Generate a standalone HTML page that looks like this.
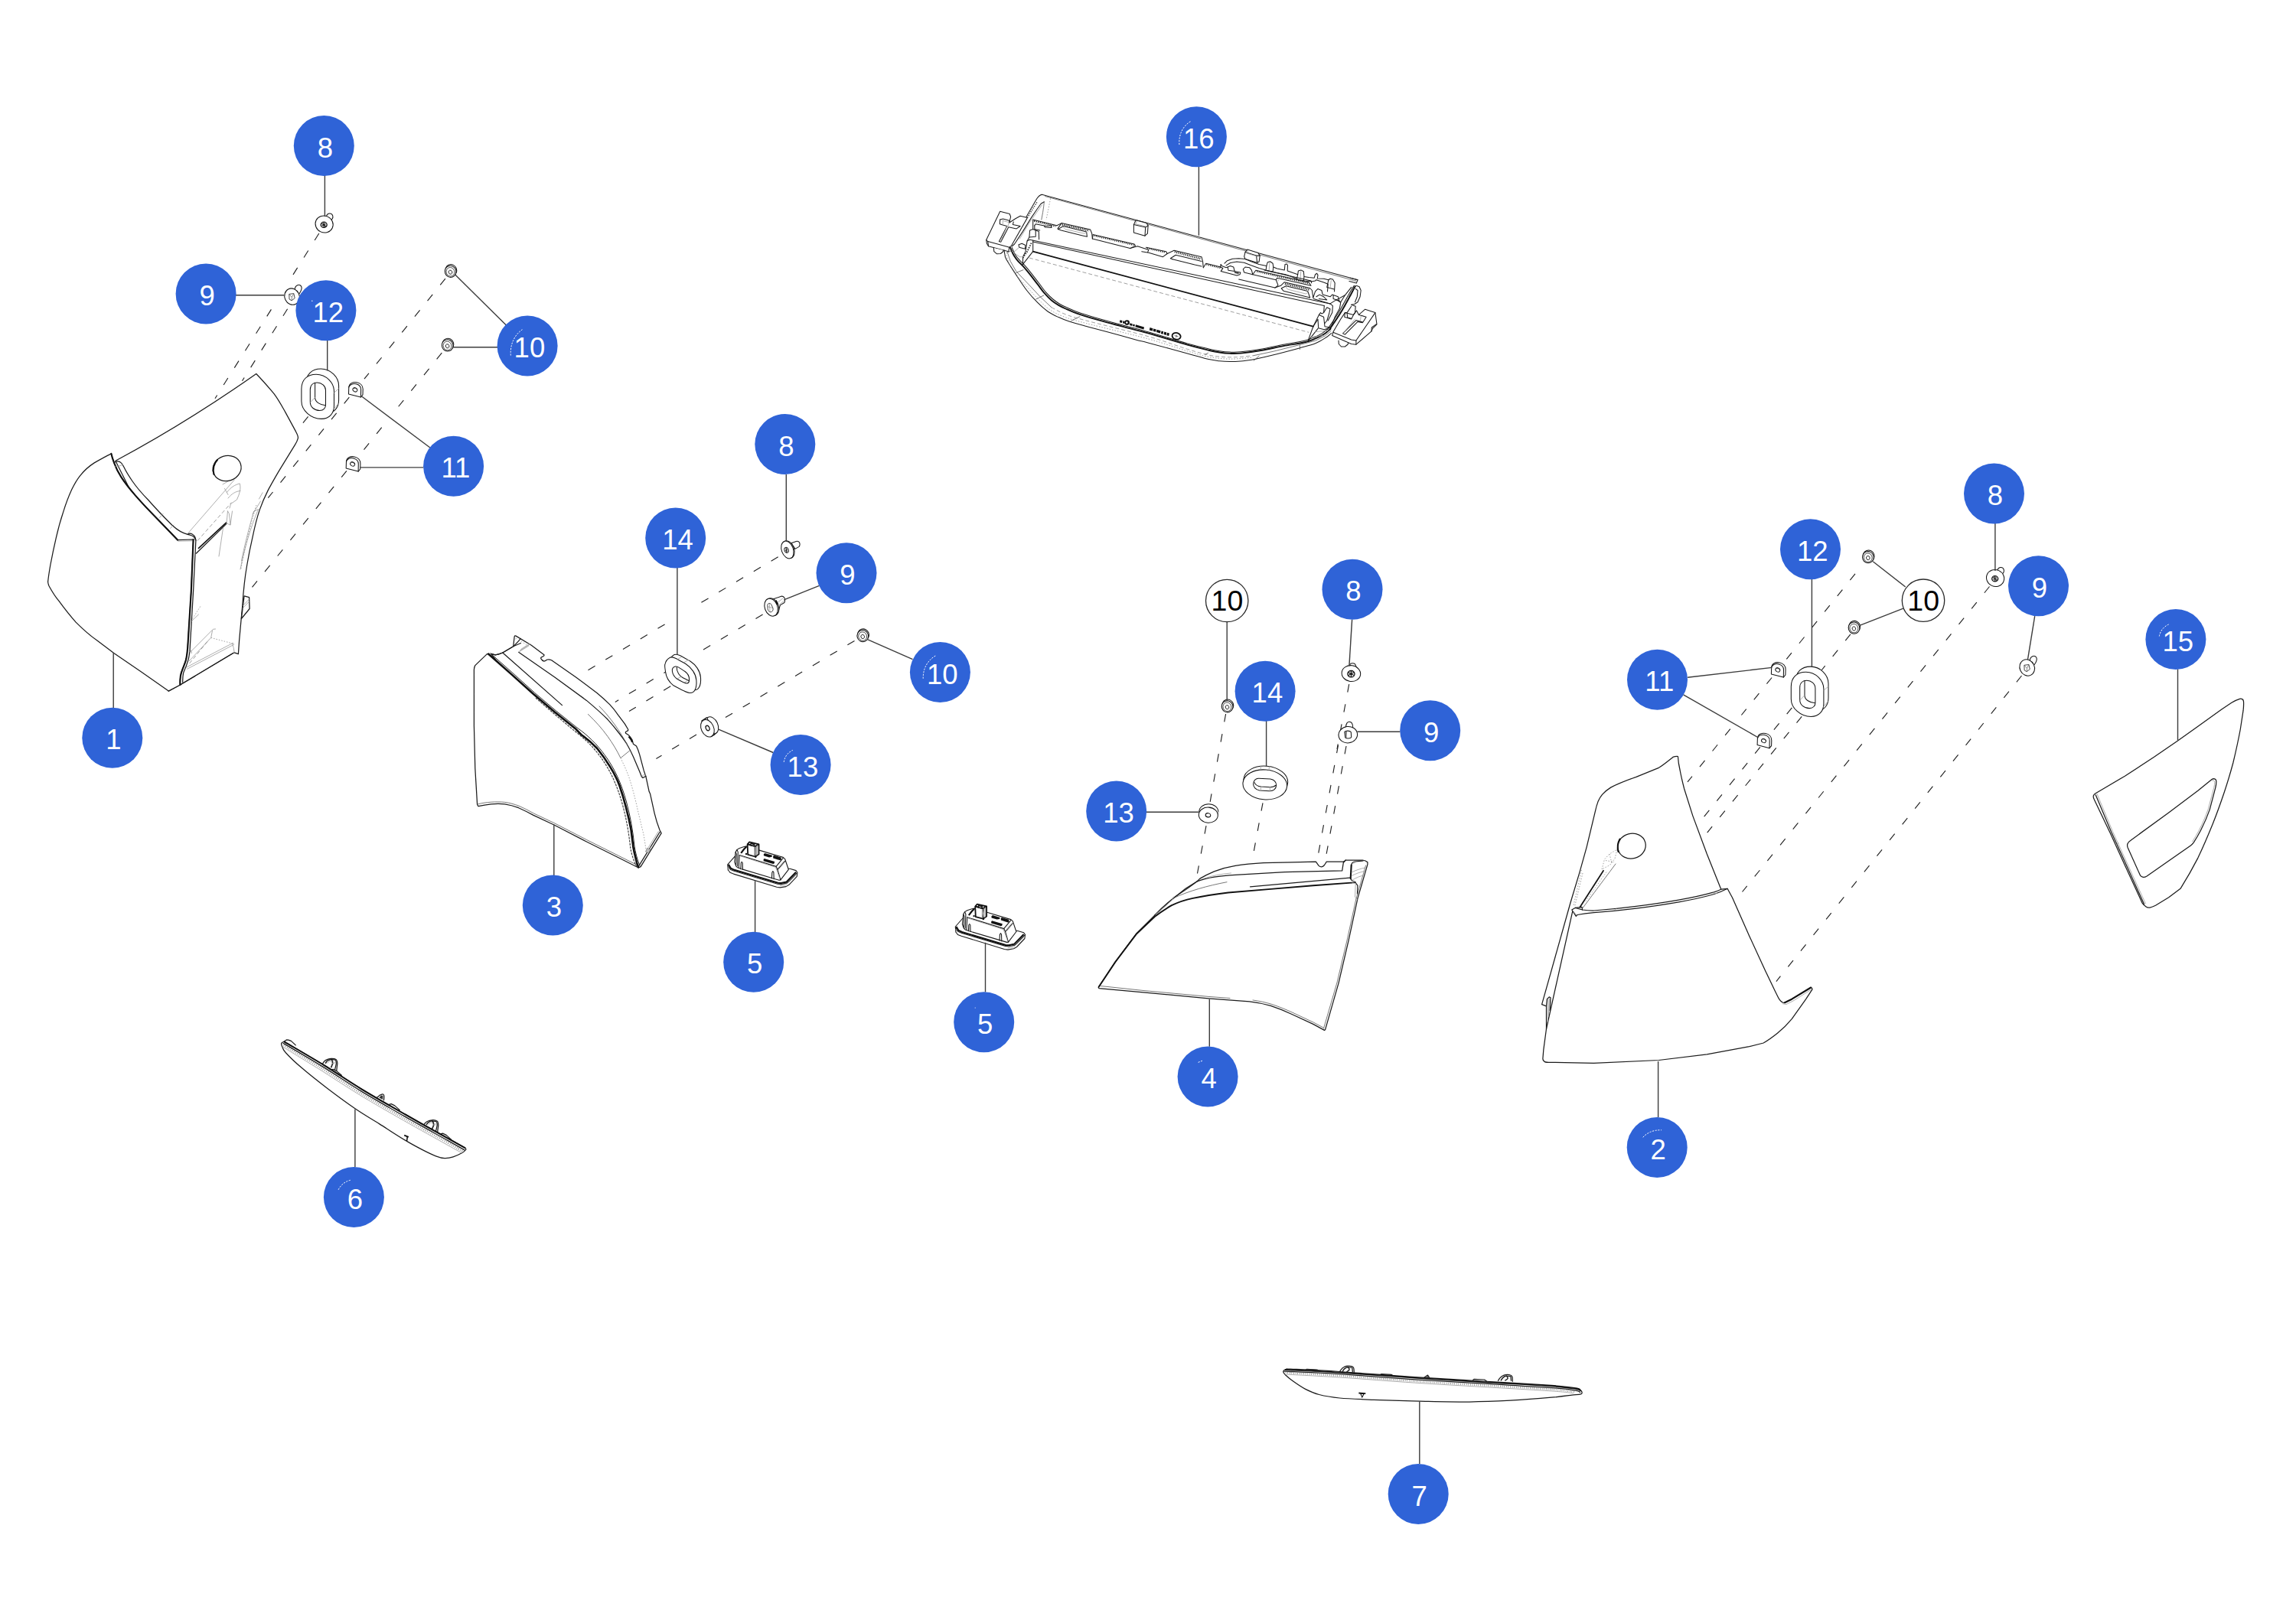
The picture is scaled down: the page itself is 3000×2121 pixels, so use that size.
<!DOCTYPE html>
<html><head><meta charset="utf-8"><title>Parts diagram</title>
<style>
html,body{margin:0;padding:0;background:#fff;}
body{width:3000px;height:2121px;overflow:hidden;}
svg{display:block;font-family:"Liberation Sans",sans-serif;}
.o{fill:none;stroke:#1c1c1c;stroke-width:1.25;stroke-linecap:round;stroke-linejoin:round}
.of{fill:#fff;stroke:#1c1c1c;stroke-width:1.25;stroke-linecap:round;stroke-linejoin:round}
.b{fill:none;stroke:#111;stroke-width:2.1;stroke-linecap:round;stroke-linejoin:round}
.t{fill:none;stroke:#555;stroke-width:.8;stroke-linecap:round;stroke-linejoin:round}
.g{fill:none;stroke:#999;stroke-width:.8;stroke-linecap:round;stroke-linejoin:round}
.gd{fill:none;stroke:#888;stroke-width:.8;stroke-dasharray:5 3}
.gt{fill:none;stroke:#888;stroke-width:.8;stroke-dasharray:1.5 2}
.d{fill:none;stroke:#222;stroke-width:1.15;stroke-dasharray:10.6 15.9}
.l{fill:none;stroke:#3c3c3c;stroke-width:1.4}
#part16 .o,#part16 .of,#part16b .o,#part16b .of{stroke-width:1.05}
#part16 .b{stroke-width:1.75}
#lamp5 .o,#lamp5 .of{stroke-width:1.1}
.bc{fill:#2f63d7}
.wc{fill:#fff;stroke:#2a2a2a;stroke-width:1.3}
.bt{fill:#fff;font-size:36.5px;text-anchor:middle}
.wt{fill:#000;font-size:37.5px;text-anchor:middle}
</style></head><body>
<svg width="3000" height="2121" viewBox="0 0 3000 2121">
<rect width="3000" height="2121" fill="#fff"/>
<!-- 00_defs.svg -->
<defs><style>.hw .of,.hw .o{stroke-width:1.05;stroke:#151515}</style>
<!-- screw type 8, front view (head ellipse + shaft bump up-right) -->
<g id="s8" class="hw">
 <path class="of" d="M3 -10.5C3.5 -14.5 9.5 -15.5 11 -11.5C12 -8.5 10.5 -6 8.5 -5.5"/>
 <ellipse class="of" cx="0" cy="0" rx="11.7" ry="10.9" transform="rotate(25)"/>
 <ellipse cx="-0.4" cy="0.8" rx="4" ry="3.6" fill="#fff" stroke="#111" stroke-width="1.3"/>
 <path d="M-3.2 -.9L2.2 2.7M-2.8 2L2 -.5M-.5 -2.4L-.3 4" stroke="#111" stroke-width="1.2" fill="none"/>
</g>
<!-- screw type 9, front view -->
<g id="s9" class="hw">
 <path class="of" d="M3.5 -9C4 -15 9.5 -17 12 -13.5C13.5 -10.5 11 -6 9.5 -4"/>
 <ellipse class="of" cx="0" cy="0" rx="9.6" ry="10.9" transform="rotate(-25)"/>
 <path d="M-3.8 -3.2L2.2 -4L3.6 2L-.5 5.2L-3.6 3.4Z" fill="#fff" stroke="#333" stroke-width=".9"/>
 <path d="M-3.8 -3.2L-.2 .8L-.5 5.2M-.2 .8L2.2 -4" fill="none" stroke="#555" stroke-width=".7"/>
</g>
<!-- nut type 10 -->
<g id="n10" class="hw">
 <ellipse class="of" cx="1.2" cy="-1.2" rx="7.4" ry="7.7" transform="rotate(-20)"/>
 <ellipse class="of" cx="0" cy="0" rx="7.3" ry="7.6" transform="rotate(-20)"/>
 <ellipse cx="-.3" cy=".4" rx="5.4" ry="5.8" transform="rotate(-20)" fill="none" stroke="#333" stroke-width=".8"/>
 <ellipse cx="-.4" cy=".8" rx="2.3" ry="2.6" transform="rotate(-20)" fill="#fff" stroke="#222" stroke-width=".9"/>
</g>
<!-- clip type 11 (D-shaped tab with hole) -->
<g id="c11" class="hw">
 <path class="of" d="M-9.3 5.5L-9 -3.5C-8.5 -8.5 -3.5 -10.6 1.5 -9.6C6.5 -8.6 9.6 -5 9.4 -.5L9.2 6.5L6.6 9.6L-9.3 5.5Z"/>
 <path class="o" d="M-9 -3.5C-8 -7 -3.5 -8.6 .5 -7.6C4.5 -6.6 6.9 -3.6 6.8 0L6.6 9.6"/>
 <ellipse cx="-.9" cy="-.1" rx="3.1" ry="2.5" transform="rotate(30 -.9 -.1)" fill="#fff" stroke="#222" stroke-width="1"/>
 <path d="M-3 -1.6C-1.5 -2.8 1 -2 1.6 -.4" fill="none" stroke="#222" stroke-width=".8"/>
</g>
<!-- washer 13 -->
<g id="w13" class="hw">
 <ellipse class="of" cx="1.6" cy="-1.6" rx="10.6" ry="11.6" transform="rotate(-20 1.6 -1.6)"/>
 <ellipse class="of" cx="0" cy="0" rx="10.6" ry="11.6" transform="rotate(-20)"/>
 <ellipse cx="-.6" cy=".8" rx="2.4" ry="2.9" transform="rotate(-20 -.6 .8)" fill="#fff" stroke="#222" stroke-width=".9"/>
</g>
</defs>
<!-- 01_defs2.svg -->
<defs>
<!-- grommet 12: vertical oval ring, centred on front oval -->
<g id="g12" class="hw">
 <path class="of" transform="translate(6.1 -7.2)" d="M-2 -29.1C-14 -29.1 -21.3 -22 -21.3 -10L-21.3 6C-21.3 18 -9 29.1 4.7 29.1C15 29.1 21.3 22 21.3 12L21.3 -7C21.3 -18 11 -29.1 -2 -29.1Z"/>
 <path class="of" d="M-2 -29.1C-14 -29.1 -21.3 -22 -21.3 -10L-21.3 6C-21.3 18 -9 29.1 4.7 29.1C15 29.1 21.3 22 21.3 12L21.3 -7C21.3 -18 11 -29.1 -2 -29.1Z"/>
 <path class="g" d="M21.3 -5L27.4 -10.5M21 16L27.2 9"/>
 <path class="of" d="M-.8 -18.2C-6 -18.2 -9.9 -15 -9.9 -9L-9.9 7C-9.9 14 -4 18.2 2.5 18.2C7.5 18.2 10.3 15 10.3 11L10.3 -8C10.3 -14 5 -18.2 -.8 -18.2Z"/>
 <path class="o" d="M-3.6 -17.6L-3.6 1.5C-3.4 7 3 11 10 11.4"/>
 <path class="g" d="M-9.7 7.5L-3.6 1.2"/>
</g>
<!-- grommet 14 tilted (group 3) -->
<g id="g14a" class="hw">
 <path class="of" transform="translate(5.6 -3.7)" d="M-13.8 -23.1C-10 -24.5 -6 -22 6.9 -14.6C14 -10 20 -2 20.6 6.9C21 12 20.5 16 18.7 19.4C17 22.5 14 23.5 11.3 23.1C8 22.8 5.4 21.7 -9.4 13.5C-15 9 -19 2 -19.7 -4.2C-20.3 -8 -21 -12 -20.5 -13.8C-19.5 -18.5 -17 -21.5 -13.8 -23.1Z"/>
 <path class="of" d="M-13.8 -23.1C-10 -24.5 -6 -22 6.9 -14.6C14 -10 20 -2 20.6 6.9C21 12 20.5 16 18.7 19.4C17 22.5 14 23.5 11.3 23.1C8 22.8 5.4 21.7 -9.4 13.5C-15 9 -19 2 -19.7 -4.2C-20.3 -8 -21 -12 -20.5 -13.8C-19.5 -18.5 -17 -21.5 -13.8 -23.1Z"/>
 <path class="g" d="M-3.5 -21L1.5 -24M5 -17L10.5 -20"/>
 <path class="of" d="M-7.2 -11.2C-5 -12 -3 -10.5 5.4 -5C9 -2.5 11.5 2 11.3 6.1C11.2 9 10 10.6 8.4 10.6C6 11 3 9.5 -5 4.7C-8.5 2 -10.5 -2 -10.9 -5C-11.3 -8 -9.5 -10.5 -7.2 -11.2Z"/>
 <path class="o" d="M-5 -10.2C-5.5 -4 -1 1.5 3 3.5L10.8 7.2"/>
 <path class="g" d="M-4 4.5L1 2M5 9.5L9.5 6.8"/>
</g>
<!-- grommet 14 horizontal (group 4) -->
<g id="g14b" class="hw">
 <ellipse class="of" cx="1" cy="-4.8" rx="28.9" ry="19.4" transform="rotate(5 1 -4.8)"/>
 <ellipse class="of" cx="0" cy="0" rx="28.9" ry="19.4" transform="rotate(5)"/>
 <path class="g" d="M-5.5 -24L-5.7 -19.5M5.5 -23.6L5.3 -18.8"/>
 <path class="of" d="M-8 -8.2L7 -7.4C12 -6.8 15 -3 14.8 1C14.6 5.5 11 8.6 6 8.4L-7 7.6C-12 7 -15.4 3 -15.2 -1C-15 -5.5 -12 -8.4 -8 -8.2Z"/>
 <path class="o" d="M-14.2 -3.5C-12.5 .5 -9 2.4 -5 2.7L7 3.3C10.5 3.3 13 2 14.2 .8"/>
 <path class="g" d="M-5.5 2.8L-5.5 7.6M6.5 3.3L6.5 8.3"/>
</g>
</defs>
<!-- 02_defs3.svg -->
<defs>
<!-- screw 8 side view (group 3) -->
<g id="s8b" class="hw">
 <path class="of" d="M5.1 -8.7L11.4 -11.1C14.5 -11.8 16.2 -9.5 16.2 -7.2C16.2 -5.5 15.6 -4.4 14.8 -3.9L10 -1.1Z"/>
 <ellipse class="of" cx="1" cy="-.4" rx="7.6" ry="11.8" transform="rotate(-20 1 -.4)"/>
 <ellipse class="of" cx="0" cy="0" rx="7.6" ry="11.8" transform="rotate(-20)"/>
 <ellipse cx="-1.3" cy=".4" rx="2.6" ry="3.6" transform="rotate(-20 -1.3 .4)" fill="#fff" stroke="#222" stroke-width="1"/>
 <path d="M-2.6 -1.8L0 2.6M-2.8 1.2L.2 -.6M-1.3 -3L-1.3 3.8" stroke="#222" stroke-width=".9" fill="none"/>
</g>
<!-- screw 9 side view (group 3) -->
<g id="s9b" class="hw">
 <path class="of" d="M1.4 -10.4L13.9 -14.6C16.5 -14.6 18 -12 18 -9.8C18 -8 17.7 -7 17.3 -6.2L11.8 -2.8L9 6.9Z"/>
 <path class="g" d="M8 -6L15.5 -12M9.5 -2.5L16.8 -8.5"/>
 <ellipse class="of" cx="1.4" cy="-.5" rx="8.3" ry="11.8" transform="rotate(-20 1.4 -.5)"/>
 <ellipse class="of" cx="0" cy="0" rx="8.3" ry="11.8" transform="rotate(-20)"/>
 <path d="M5.5 -8.5L8 -3.5M6.3 -9.3L8.8 -4.5" stroke="#111" stroke-width="1.3" fill="none"/>
 <path d="M-4.8 -3.5C-4 -5.5 -1.5 -5.8 0 -4.2L2.4 1.2C3 3.8 1.5 6 -.5 6.2C-2.5 6.3 -4 4.5 -4.5 2Z" fill="#fff" stroke="#333" stroke-width=".9"/>
 <path d="M-2.2 -4.6L-1.6 5.8M-4.6 -1L2.2 1" stroke="#777" stroke-width=".6" fill="none"/>
</g>
<!-- washer 13 side-ish view (group 3) -->
<g id="w13a" class="hw">
 <ellipse class="of" cx="5.5" cy="-3.7" rx="8.1" ry="11.8" transform="rotate(-25 5.5 -3.7)"/>
 <path class="of" d="M-6.3 -10.3L-.8 -14L9.3 8.2L4.5 10.9Z" stroke="none"/>
 <path class="o" d="M-7.8 -9.6L-1.6 -13.6M5.6 10.2L10.8 6.8"/>
 <ellipse class="of" cx="0" cy="0" rx="8.1" ry="11.8" transform="rotate(-25)"/>
 <ellipse cx=".2" cy="-.3" rx="2.3" ry="3.4" transform="rotate(-25 .2 -.3)" fill="#fff" stroke="#111" stroke-width="1.2"/>
</g>
<!-- washer 13 (group 4) -->
<g id="w13b" class="hw">
 <ellipse class="of" cx=".5" cy="-4.4" rx="12.5" ry="10.1"/>
 <path d="M-12.3 -4.4L-12.5 0L12.5 0L13 -4.4Z" fill="#fff" stroke="none"/>
 <ellipse class="of" cx="0" cy="0" rx="12.5" ry="10.1" transform="rotate(4)"/>
 <ellipse cx="-.3" cy=".1" rx="3.3" ry="2.6" transform="rotate(8)" fill="#fff" stroke="#111" stroke-width="1.1"/>
</g>
<!-- screw 8 group 4: bump at top -->
<g id="s8c" class="hw">
 <path class="of" d="M-2 -9.5C-2 -14.5 5.5 -14.8 6.2 -9.5L9.5 -5"/>
 <ellipse class="of" cx="0" cy="0" rx="12.3" ry="10.4" transform="rotate(8)"/>
 <ellipse cx="0" cy=".6" rx="4.6" ry="4.2" fill="#fff" stroke="#111" stroke-width="1.3"/>
 <path d="M-3.6 -1.2L3.4 2.4M-3.4 2.4L3.4 -1.4M0 -3.6L0 4.6" stroke="#111" stroke-width="1.2" fill="none"/>
</g>
<!-- screw 9 group 4: bump at top -->
<g id="s9c" class="hw">
 <path class="of" d="M-2.8 -10C-2.6 -19.5 6.2 -19 6.4 -9.5"/>
 <ellipse class="of" cx="0" cy="0" rx="12.3" ry="10.7" transform="rotate(-8)"/>
 <path d="M-4.4 -3.8C-3 -5.6 2.5 -5.6 4 -3.4L4.4 3.4C3.4 5.2 -2.4 5.4 -3.6 3.6Z" fill="#fff" stroke="#222" stroke-width="1.1"/>
 <path d="M-3.2 -4.2L-3.4 4M-2 -4.8L-2.4 4.6" stroke="#444" stroke-width=".9" fill="none"/>
</g>
</defs>
<!-- 10_part1.svg -->
<g id="part1">
 <!-- body behind -->
 <path class="of" d="M150.9 602.2Q243 553 334.8 488.5C343 497 350 505 357.9 514.4C364 522.5 368.5 531 372.7 538.4L385.7 562.4C388 567 390 570 389.4 572.6C388.5 576 387.5 578 385.7 580.9L365.3 614.2C360 623 355 632 350.5 640.1C346 649 342.5 657 339.4 665.9C335.5 677 332.5 690 330.2 701.1C327 715 324.5 728 322.8 738C320 754 318 772 316.9 790L312.6 837.1L311.4 854.7L306.2 852.8L304.3 853.8L235.4 895L220.2 903.1L200 700Z"/>
 <!-- side tab -->
 <path class="of" d="M319.1 778.9L325.6 780.7L326.1 795.5L315.4 808.5Z"/>
 <path class="g" d="M317.5 791.5L325 783.5M317 795L325.6 786"/>
 <!-- front face -->
 <path class="of" d="M145.4 592.9C137 597 130 601 123.2 604.9C116 609.5 110 615 104.7 621.6C100 627.5 96.5 634 93.6 640.1C89 650 85.5 660 82.5 669.6C79 680 76 691 73.3 702.9C70.5 715 68 727 65.9 738C64.5 746 63.4 753 62.6 760.2C62.8 762.5 63.3 764 64 765.7C68 773 72 779.5 77 785.4C84 795 91 804 99.1 813.1C108 822 117 830 126.9 837.1L149.1 853.8L184.2 877.8L217.4 900.9L220.2 903.1L235.4 895C235.2 891 235.4 887 235.9 883.3C236.5 880 237.5 877 238.7 874.1C240.5 869.5 242.3 865.5 243.3 861.1C244.2 856.5 244.8 851.5 245.2 846.4L249.8 772.4L252.6 705L232.2 705.7L206.4 678.9C196 668.5 186 658 176.8 647.4C170 639.5 163.5 631.5 158.3 623.4C154.5 617.5 151.5 611.5 149.1 604.9C147.5 600.5 146.3 597 145.4 592.9Z"/>
 <path class="b" d="M145.4 592.9C146.3 597 147.5 600.5 149.1 604.9C151.5 611.5 154.5 617.5 158.3 623.4C163.5 631.5 170 639.5 176.8 647.4C186 658 196 668.5 206.4 678.9L232.2 705.7"/>
 <!-- ridge inner line -->
 <path class="o" d="M150 604C152.5 602.5 156 602.5 158.3 604.9C160 606.5 161 608.5 162 610.5C165 617 169 623 173.1 629C179 637.5 186 645.5 193.4 653C203 664 214 675.5 224.8 686.3C228.5 689.8 232 692.5 235.9 694.6C239 696.2 242 697.3 245.2 698.3C248.5 699.3 251 699.8 252.6 701C254.5 702.4 255.2 704 255.4 705.7"/>
 <path class="g" d="M151 609.5C154.5 609.5 158 608.5 160.5 607.5M213 671.5L208.5 676.5M222.5 690.5L227 686M232.8 707.2L252.3 706.8"/>
 <!-- front right edge double -->
 <path class="b" d="M252.6 705L249.8 772.4L245.2 846.4C244.8 851.5 244.2 856.5 243.3 861.1C242.3 865.5 240.5 869.5 238.7 874.1C237.5 877 236.5 880 235.9 883.3C235.4 887 235.2 891 235.4 895"/>
 <path class="o" d="M255.9 705.9L252.6 772.4L247.9 851.9C247.3 858.5 245.5 865 243.3 870.4C241.8 874 240.3 877 239.6 879.6C238.8 883.5 238.6 887.5 238.7 891.6"/>
 <path class="o" d="M245.2 698.3C247 696.8 249.3 697 251.5 698.3C254 699.8 255.7 702.5 255.9 705.9"/>
 <!-- inner ledge -->
 <path d="M259 716.8L296 682.6" fill="none" stroke="#111" stroke-width="1.6"/>
 <path class="o" d="M256.3 723.2L296 684.4"/>
 <path class="g" d="M245.2 697.4L306.2 627.1"/>
 <path class="gd" d="M258.1 706.6L302.5 656.7"/>
 <path class="g" d="M296 684.4L297.5 668M297.5 668L299.5 671.5L301 686L297.5 684.5M301 686L303.5 668M286 727L291.5 690"/>
 <path class="g" d="M293.5 638.5L298 646.5M291 633L310 622M296.5 643.5C301 637 307 633.5 313 632M298 651C303 645 308 642 314 641.5M313.5 632.5C314.5 637 314 641 312 647L309.5 653L301.5 658.5L300 664"/>
 <!-- hole -->
 <ellipse class="of" cx="296.6" cy="612" rx="18.7" ry="16.4" transform="rotate(-18 296.6 612)"/>
 <path class="b" d="M279.5 620C277.5 613 279.5 605.5 284 601"/>
 <!-- right inner thin curves -->
 <path class="g" d="M343.1 643.8L338.5 652M337.5 665.5C327 690 318.5 720 314 744M331.5 668.5C324 695 319 715 315.5 733M331.5 668.5L337.5 665.5M340.5 655L330 672"/>
 <path class="gt" d="M335 660C326 690 319 720 314.5 745"/>
 <!-- bottom inner ledge -->
 <path class="g" d="M243.3 872.2L303.4 840.8M244.5 874.3L304.4 843M303.4 840.8L305.2 846.5L306.2 852.8M303.4 840.8C304.5 839.5 305.5 840.5 305.3 842.5"/>
 <path class="gt" d="M275.7 833.4L303.4 840.8"/>
 <path class="g" d="M248.9 851.9L278.4 822.3L281.5 822M247 864L275.7 833.4L277.5 824M250.5 853.5L249.5 850"/>
 <path class="gd" d="M247.5 867L273 836"/>
 <path class="gt" d="M251.5 808.5L262.5 791.5"/>
 <path class="g" d="M250.5 811.5L259.5 803"/>
 <!-- bottom edge -->
 <path class="o" d="M235.4 895L304.3 853.8"/>
</g>
<!-- 11_part3.svg -->
<g id="part3">
 <!-- back body -->
 <path class="of" d="M641.6 854.4L647.1 855.8C650.5 855.5 653.5 854.5 656.8 853L670.7 844.7L672.1 832.2C672.5 830.8 673.3 830.6 674.2 831.1L694.3 843.3L710.9 855.8C711.3 856.8 710.5 857.3 709.5 857.8C707.5 858.5 706.3 859.5 706.8 860.6C707.8 862.5 709.3 863.8 710.9 864.1C712.5 864 713.8 862.8 715.1 862C717 861.5 719 862 720.6 862.7L752.5 884.9L780.2 905.7C786 910.5 791.5 915.5 796.9 920.9C801 925.3 804.7 930 808 934.8L816.3 945.9L820.4 952.8C820.9 953.8 820.9 954.4 820.4 954.9L817.7 956.3C817.2 957 817.2 957.6 817.7 958.3L821.8 961.1C823.5 962.8 824.9 964.7 826 966.7L827.4 972.2L831.5 975C833.3 978.5 834.5 982 835.7 986.1L841.2 1006.9L844 1015.2L848.2 1034.6L849.6 1037.6L855.1 1062.6C857 1070.5 859.3 1078 862 1084.8L864.1 1088.9L837.1 1132.6L834.3 1134L700 930Z"/>
 <!-- front face -->
 <path class="of" d="M636.7 854.4L620.8 869.6C619.8 871.5 619.5 873 619.4 875L619.4 948.6L620.8 1004.1L623.6 1051.5L625 1053.6C630.5 1052.3 636 1051.4 641.6 1050.8C647.5 1050.3 653.5 1050.2 659.6 1050.8C665.7 1051.7 671.7 1053.4 677.6 1055.7C684 1058.5 690.5 1061.8 697 1065.4L723.4 1077.8L766.4 1100L808 1120.8L834.3 1134C832.5 1129.5 831.2 1124.5 830.1 1119.4C829 1115.3 828.1 1111.2 827.4 1107L824.6 1084.8C822.7 1074.5 820.4 1064.3 817.7 1054.3C815.3 1044.8 812.5 1035.5 809.4 1026.5C806 1017.5 801.8 1009.3 796.9 1001.6C791.8 993.3 786.2 985.5 780.2 978C773.8 971.2 766.8 965.3 759.4 960L752.5 952.8L724.8 930.6L697 907L669.3 882.1L639.5 855.1Z"/>
 <path class="t" d="M624 1051C630 1049.3 636 1048.6 641.8 1048.2C647.7 1047.8 653.7 1047.8 659.8 1048.4C666 1049.2 672 1051 678 1053.2C684.5 1056 691 1059.3 697.5 1063L723.8 1075.4L766.8 1097.6L808.4 1118.4L831.5 1130"/>
 <!-- bold edge strokes -->
 <path d="M637.5 854L669.3 882.1L697 907L724.8 930.6L752.5 952.8L759.4 960C766.8 965.3 773.8 971.2 780.2 978C786.2 985.5 791.8 993.3 796.9 1001.6C801.8 1009.3 806 1017.5 809.4 1026.5C812.5 1035.5 815.3 1044.8 817.7 1054.3C820.4 1064.3 822.7 1074.5 824.6 1084.8L827.4 1107C828.1 1111.2 829 1115.3 830.1 1119.4C831.2 1124.5 832.5 1129.5 834.3 1134" fill="none" stroke="#111" stroke-width="2.6" stroke-linejoin="round"/>
 <path d="M640.5 853.5L671 880.5L698.5 905.3L726.3 928.8L754 951C768 961 780 972.5 790 986.5C803 1004 812 1024 818.5 1048C823.5 1066 827 1086 829 1106C830 1113 832.5 1123 836 1131.5" fill="none" stroke="#222" stroke-width="1"/>
 <path d="M700 912L726 934.5L751 955.5C765 966 776 977 786 991C798 1008 806.5 1027 813 1050C818 1068 821.5 1087 823.5 1106C824.5 1114 827.5 1124 831.5 1132" fill="none" stroke="#444" stroke-width="1.2" stroke-dasharray="3 1.2"/>
 <!-- front tab -->
 <path class="o" d="M641.6 854.4L647.1 855.8C650.5 855.5 653.5 854.5 656.8 853L670.7 844.7L680.4 840.5"/>
 <path class="o" d="M670.7 844.7C674 842 677 838.5 680.2 834.7"/>
 <path class="gt" d="M673.5 835L676 833.5M681 838L688 842.5"/>
 <!-- inner long lines -->
 <path class="o" d="M656.8 853L734.5 921.6"/>
 <path class="o" d="M677.6 852.3L724.8 884.9L766.4 915.4C776 923.5 785.5 931.5 794.1 940.3C799 945.7 803.7 951.3 808 957C812 962 815.7 967 819 972.2C822.2 977.7 825 983.2 827.4 988.8L835.7 1008.3L838.5 1015.2"/>
 <path d="M677.6 852.3L691 844M678.6 851L691.6 842.8M679.6 849.8L692 841.8M680.4 848.6L692.3 840.8" stroke="#999" stroke-width=".7" fill="none"/>
 <path class="o" d="M838.5 1015.2L840 1016.5L844 1014.2"/>
 <path class="g" d="M838.5 1015.2L840.8 1012.5L843.5 1013"/>
 <!-- thin curves -->
 <path class="t" d="M783 923C797 937 810 955 820.4 975"/>
 <path class="t" d="M768.4 933.4C778 942.5 786.5 952 794.1 962.5C800.5 971.5 806 980.5 810.7 990.2"/>
 <path class="gt" d="M810.7 990.2C815 999 818.7 1007 821.8 1015.5C826 1028.5 829.8 1042.5 832.9 1057.1L841.2 1091.7L844 1109.7"/>
 <path class="t" d="M811.4 990.2L822.5 981.2"/>
 <!-- small dark mark near notch -->
 <path d="M821.5 962.5C823.5 964.5 825.2 967 826.2 970" stroke="#111" stroke-width="2.2" fill="none"/>
 <!-- bottom right double lines -->
 <path class="o" d="M862 1087.5L835 1131.2"/>
 <path class="g" d="M860.3 1086.5L844 1112.5L845.5 1109.5L849 1110.5L850 1107"/>
 <path d="M845.5 1108.5L849.6 1110L847.5 1115L843.5 1113Z" fill="#bbb" stroke="#777" stroke-width=".6"/>
</g>
<!-- 12_part4.svg -->
<g id="part4">
 <path class="of" d="M1435.2 1290.4L1457 1257.1L1484.7 1220.1L1508.7 1196.1L1530.9 1175.8L1549.4 1161L1564.2 1151.8L1567.9 1148.1C1574 1144.5 1580 1141.5 1586.4 1138.8C1595 1135.5 1604.5 1133 1614.1 1131.4C1626 1129.5 1638.5 1128.4 1651 1127.7L1688 1126.8L1719.4 1126.2L1723.1 1131.4C1724.3 1132.6 1725.5 1132.9 1726.8 1132.9C1728.3 1132.7 1729.5 1131.8 1730.5 1130.5L1733.3 1126.2L1755.5 1126.2L1758.3 1124L1780.4 1124C1783.5 1124.5 1785.5 1125.5 1786.9 1126.8L1786.9 1129.6L1774 1173.9L1762 1229.4L1749 1284.8L1731.5 1345.8L1730.5 1346.4L1715.8 1338.4L1688 1325.5C1679 1321.3 1669.8 1317.5 1660.3 1314.4C1651.5 1311.8 1642.2 1310 1632.6 1308.9L1579 1304.8L1493.9 1296.9L1436 1291.6Z"/>
 <path class="t" d="M1438 1288.5L1494 1294.5L1579 1302.4L1607 1304.5M1637 1307C1646 1308.3 1654 1310 1661 1312.2C1670.5 1315.3 1679.7 1319 1688.8 1323.2L1716.5 1336.2L1729 1343"/>
 <path class="t" d="M1784.5 1131L1771.8 1175L1760 1229L1747 1284L1729.5 1344"/>
 <!-- bold front top edge -->
 <path d="M1435.8 1289.5L1457.5 1257L1485.2 1220.3L1508.7 1198C1516 1192.5 1523 1187.7 1530.9 1183.2C1539.5 1179 1548.5 1176 1558.6 1173.9C1573 1170.8 1588.5 1168.5 1604.8 1166.5L1660.3 1161.9L1715.8 1157.3L1765.7 1153.6" fill="none" stroke="#111" stroke-width="1.9" stroke-linejoin="round" stroke-linecap="round"/>
 <path class="o" d="M1765.7 1153.6L1771.2 1153.6L1774 1157.3L1773.5 1168"/>
 <path class="g" d="M1771.2 1154.5L1770.5 1172L1773.5 1176"/>
 <!-- ledge top line -->
 <path class="o" d="M1564.2 1151.8C1571 1149.3 1578.5 1147.5 1586.4 1146.2C1595 1144.7 1604.5 1143.9 1614.1 1143.4L1678.8 1139.7L1753.7 1137.9L1755.5 1126.2"/>
 <path class="o" d="M1508.7 1196.1C1520 1184 1534 1172 1549.4 1162.5C1554.5 1159 1559.5 1155.5 1564.2 1151.8"/>
 <path class="o" d="M1633.5 1158.8L1763.8 1147.1"/>
 <path class="b" d="M1765.7 1130.5L1764.7 1148.1"/>
 <path class="o" d="M1758.3 1124L1756.5 1126.5M1765.7 1130.5C1766 1128 1768 1126.5 1770 1126L1781 1125M1764.7 1148.1L1766.5 1151L1771 1152.5"/>
 <path class="g" d="M1766 1140C1772 1137 1778 1135 1784 1134M1766 1144.5C1772 1141.5 1778 1139.5 1783 1138.5M1767 1150C1772 1147 1777 1145 1781.5 1144M1768 1128.5L1772 1126.5"/>
 <!-- thin grey -->
 <path class="t" d="M1532.8 1173.9C1554 1164 1578 1157.5 1603 1152.7"/>
 <path class="g" d="M1571.5 1148.5C1583 1144.5 1596 1142 1608.5 1141"/>
 <path class="g" d="M1510 1195L1531 1176.5L1533.5 1172"/>
</g>
<!-- 13_part2.svg -->
<g id="part2">
 <!-- upper body -->
 <path class="of" d="M2185.9 989.4C2188 988.6 2190 988.4 2192.4 988.5C2192.8 995 2193.8 1001 2195.2 1007C2196.7 1015 2198.6 1023 2200.7 1031L2211.8 1066.1L2230.3 1116L2248.8 1162.2L2257.1 1161.3L2263.6 1173.3L2285.7 1223.2L2307 1269.4L2319 1294.6L2322.7 1302C2324.3 1305.5 2326 1308 2328.3 1309.4C2329.5 1310.3 2330.8 1310.5 2332 1310.3L2341.2 1305.7L2366.2 1290.5C2367.3 1290.8 2368 1291.6 2368 1292.8L2359.7 1305.7L2341.2 1331.6C2335.5 1338.5 2329.3 1344.7 2322.7 1350C2316.5 1355 2310.3 1359.5 2304.2 1363L2285.7 1367.6L2230.3 1377.8L2167.4 1385.5L2082.4 1389.4L2023.3 1388.3C2020.5 1388.3 2018.5 1388 2017.7 1387C2016.3 1386 2015.8 1384.8 2015.9 1383.3L2016.8 1372.2L2020.5 1344.5L2020.5 1314.9L2014.6 1312.7L2051.9 1180L2063.9 1140.1L2073.2 1106.8L2084.3 1060.6C2085.3 1056 2086.5 1051.5 2088 1047.6C2089.5 1044 2091.3 1041 2093.5 1038.4C2096.5 1034.8 2100.3 1031.8 2104.6 1029.1C2114.5 1023.8 2126 1019.5 2137.9 1015.3L2167.4 1003.3C2173.5 999.5 2179.5 994.5 2185.9 989.4Z"/>
 <!-- inner left line -->
 <path class="o" d="M2054.7 1191.1L2020.5 1344.5"/>
 <path class="o" d="M2020.5 1314.9L2021.4 1305.7L2024.2 1302.9L2026 1303.8L2025.1 1320.5"/>
 <path class="g" d="M2022.8 1306.5L2022.2 1335M2024.3 1305L2023.5 1328"/>
 <!-- ledge (lower section top edge) -->
 <path class="o" d="M2248.8 1162.2C2246 1163.5 2242.8 1164.8 2239.5 1165.9C2225 1170 2209.5 1173.3 2193.3 1176.1C2175 1179.3 2156.5 1182 2137.9 1184.4C2119.5 1186.8 2101 1188.7 2082.4 1190C2077.5 1190 2072.5 1189.7 2067.6 1189L2058.4 1186.3L2053.8 1189L2059.3 1197.4L2061.2 1195.5C2068 1194.4 2075 1193.5 2082.4 1192.7C2101 1191.3 2119.5 1189.4 2138 1187.1C2156.6 1184.7 2175 1182 2193.5 1178.8C2209.7 1176 2225 1172.7 2239.8 1168.5C2246 1166.5 2251.8 1164 2257.1 1161.3"/>
 <path class="o" d="M2058.4 1186.3L2067 1185.4L2067.6 1189"/>
 <path class="g" d="M2055.5 1190.5L2060.3 1196.5M2110 1189.5L2112 1187.3M2238 1167L2243 1167.5"/>
 <!-- strut -->
 <path d="M2095.4 1137.3L2063.9 1186.3" fill="none" stroke="#111" stroke-width="1.7"/>
 <path class="t" d="M2111 1129L2067.6 1187.2"/>
 <path class="gt" d="M2099 1139.5L2071 1179M2093 1136L2096.5 1123L2103 1116L2113 1110L2110 1122L2103.5 1130.5L2093 1136M2103 1116L2106 1128M2098 1124.5L2109 1126.5M2113 1110L2116 1106.5"/>
 <path class="gt" d="M2066.5 1137L2056 1183M2068 1141L2057.5 1185"/>
 <!-- hole -->
 <ellipse class="of" cx="2132" cy="1105.6" rx="18.4" ry="16.3" transform="rotate(-15 2132 1105.6)"/>
 <path class="b" d="M2114.5 1113C2113 1107 2114 1101 2116.5 1096.5"/>
 <!-- fin bold edge -->
 <path class="b" d="M2332 1310.3L2341.2 1305.7L2366.2 1290.5"/>
 <path class="g" d="M2329.5 1311.8L2334 1312.5L2343 1308L2366.5 1293.3"/>
</g>
<!-- 14_part15.svg -->
<g id="part15">
 <path class="of" d="M2926.4 913.3C2929.5 912.8 2931.3 914.2 2931.5 916.7C2931.8 920.5 2931.5 924.5 2931.1 928.2L2927.3 953C2924.5 968 2921.3 982.5 2917.8 997C2914.3 1010 2910.5 1022.7 2906.3 1035.2C2901.5 1049.5 2896.5 1063.5 2891 1077.2C2885 1092 2878.7 1106.7 2871.9 1121.1C2864.8 1135 2857 1148.5 2849 1161.3L2833.7 1172.7L2816.5 1183.2C2813.8 1184.6 2811.3 1185.6 2808.9 1186.1C2807 1186.3 2805.4 1186 2804.1 1185.1C2802.2 1183.8 2800.6 1182.2 2799.3 1180.4L2776.4 1130.7L2757.3 1088.7L2736.3 1044.7C2735.3 1043 2735 1041.5 2735.3 1040C2735.8 1038.5 2736.8 1037.5 2738.2 1036.7L2776.4 1014.2L2814.6 989.3L2845.2 968.3L2871.9 949.2L2902.5 927.2L2915.9 918.3C2919.5 916 2923 914.3 2926.4 913.3Z"/>
 <path class="o" d="M2738.2 1038.8L2758.9 1087.8L2778 1129.8L2801.5 1181.5"/>
 <path class="g" d="M2740 1037.5L2760.6 1086.9L2779.7 1128.9L2803.5 1181M2766 1103L2768 1102"/>
 <path class="of" d="M2892 1017.6C2894.3 1017.6 2895.7 1018.8 2895.8 1020.9C2895.9 1023.8 2895.5 1026.6 2894.8 1029.4L2887.2 1058.1C2884 1067.3 2880 1076.3 2875.7 1084.8C2872.8 1090.5 2869.6 1096 2866.2 1101.1C2865.1 1102.6 2863.8 1103.9 2862.4 1104.9L2833.7 1125L2805.1 1145C2803.5 1146 2801.9 1146.5 2800.3 1146.4C2798.7 1146 2797.4 1145.2 2796.5 1144.1L2780.2 1107.8C2779.6 1106.2 2779.4 1104.5 2779.8 1103C2780.5 1101 2782 1099.5 2784 1098.2L2833.7 1061.9L2871.9 1033.3L2888.2 1019.9C2889.5 1018.8 2890.8 1017.9 2892 1017.6Z"/>
 <path class="g" d="M2890.5 1020C2892.3 1019.5 2893.5 1020.2 2893.7 1022.2C2893.7 1024.5 2893.3 1027 2892.7 1029.5L2885.2 1057.5C2882 1066.6 2878.2 1075.5 2873.8 1084C2871 1089.6 2867.8 1095 2864.5 1100"/>
</g>
<!-- 15_part16a.svg -->
<g id="part16">
<path class="o" d="M1319.2 323.2C1319.6 322.3 1319.3 321.3 1321.3 317.6C1323.3 313.9 1327.5 307.0 1331.0 301.0C1334.5 295.0 1338.4 288.1 1342.1 281.6C1345.8 275.1 1350.8 266.2 1353.2 262.2C1355.6 258.1 1355.6 258.5 1356.6 257.3C1357.7 256.1 1358.6 255.5 1359.4 255.0C1360.2 254.5 1361.2 254.4 1361.5 254.3L1774.0 365.7"/>
<path class="t" d="M1365.7 256.6L1771.9 367.3"/>
<path class="o" d="M1764.3 363.2L1774.0 365.7L1772.3 370.1L1762.9 367.5"/>
<path class="g" d="M1765.7 365.7L1771.9 367.3"/>
<path class="o" d="M1364.3 263.8L1360.1 266.3L1354.6 274.0L1347.6 284.4L1336.5 302.4L1325.5 319.0L1322.0 322.1"/>
<path class="t" d="M1364.3 263.8L1363.7 269.8L1362.6 277.4L1360.8 287.1"/>
<path class="g" d="M1361.5 267.7L1344.9 291.3L1332.4 312.1"/>
<path class="gt" d="M1372.6 259.4L1370.1 271.9L1367.0 287.1"/>
<path d="M1354.8 264.3L1344.9 280.2L1332.4 301.0L1322.0 319.0" fill="none" stroke="#333" stroke-width="1.6" stroke-dasharray="1.2 1.6"/>
<path class="of" d="M1306.7 276.3L1319.2 279.5L1320.6 283.3L1318.8 291.0L1326.8 285.8L1333.1 282.3L1342.4 284.6L1321.6 321.1L1318.8 323.2L1317.8 328.7L1291.5 321.8L1289.4 318.3L1288.7 313.5Z"/>
<path class="o" d="M1288.7 313.5L1290.8 315.6L1316.4 322.5L1318.8 323.2"/>
<path class="o" d="M1290.8 315.6L1291.5 321.8"/>
<path class="o" d="M1306.7 287.1L1310.5 286.0L1318.8 288.2L1318.8 291.0"/>
<path class="o" d="M1306.7 287.1L1306.3 292.7L1310.2 294.1L1315.8 295.5L1305.4 315.6L1307.7 316.3L1317.8 296.8L1328.2 298.9L1333.1 295.5L1323.4 293.4L1324.3 289.9"/>
<path class="g" d="M1310.5 286.0L1310.2 294.1M1311.6 288.8L1318.5 290.6L1316.9 295.7M1307.2 316.0L1315.8 295.5L1317.8 296.8"/>
<path class="of" d="M1298.4 323.9L1298.8 328.7L1302.6 331.8L1307.4 331.5L1311.0 328.5L1311.0 327.1"/>
<path class="of" d="M1783.7 404.2L1796.9 408.6L1799.0 423.9L1793.4 429.4L1792.0 432.9L1771.9 450.2L1765.7 449.5L1740.7 438.4L1742.1 433.6L1751.8 417.0L1757.4 408.6L1768.5 411.4L1772.6 405.9L1775.4 411.4Z"/>
<path class="o" d="M1796.9 408.6L1771.9 445.0L1765.7 444.0L1741.8 434.3"/>
<path class="o" d="M1771.9 445.0L1771.9 450.2"/>
<path class="o" d="M1757.4 408.6L1756.7 414.2L1765.7 417.0L1768.5 411.4"/>
<path class="o" d="M1760.1 410.0L1760.8 414.9L1765.7 416.3"/>
<path class="o" d="M1775.4 411.4L1785.1 414.2L1780.9 421.1L1771.9 418.6L1754.6 435.7L1757.4 437.1L1774.0 420.4L1780.2 421.8"/>
<path class="g" d="M1778.2 413.5L1777.5 419.0M1770.5 417.0L1754.9 435.7"/>
<path class="of" d="M1749.0 445.0L1749.3 449.5L1752.5 453.0L1757.4 453.0L1761.2 450.0L1761.5 448.2"/>
<path class="o" d="M1792.0 432.9L1792.3 428.0L1798.3 423.6"/>
<path class="o" d="M1772.3 373.3L1776.1 374.7L1778.2 379.5L1777.1 387.8L1774.0 394.8L1769.8 397.5L1765.7 398.2"/>
<path class="o" d="M1771.2 377.4L1774.0 379.5L1773.3 387.8L1770.5 394.8"/>
<path class="o" d="M1765.7 398.2L1771.2 400.3L1770.5 408.6L1768.5 411.4"/>
<path class="o" d="M1312.0 326.8C1312.2 327.7 1312.4 330.3 1312.9 332.3C1313.4 334.3 1312.3 334.3 1314.8 338.8C1317.3 343.3 1323.2 352.3 1327.7 359.1C1332.2 365.9 1337.0 373.5 1341.6 379.5C1346.2 385.5 1350.9 390.6 1355.5 395.2C1360.1 399.8 1364.7 404.0 1369.3 407.2C1373.9 410.4 1378.6 412.5 1383.2 414.6C1387.8 416.8 1390.8 418.1 1397.0 420.1C1403.2 422.1 1411.6 424.3 1420.1 426.6C1428.6 428.9 1437.1 431.1 1447.9 434.0C1458.7 436.9 1476.1 441.9 1484.8 444.2C1493.5 446.5 1488.9 444.9 1500.0 447.9C1511.1 450.8 1538.3 458.3 1551.5 461.9C1564.7 465.5 1572.4 468.0 1579.4 469.6C1586.4 471.2 1588.7 471.2 1593.3 471.7C1597.9 472.2 1602.5 472.4 1607.2 472.4C1611.9 472.4 1616.6 472.2 1621.2 471.9C1625.8 471.5 1628.1 471.6 1635.1 470.3C1642.1 469.0 1652.5 466.6 1663.0 464.0C1673.5 461.4 1688.5 457.4 1697.8 454.9C1707.1 452.3 1712.9 451.0 1718.7 448.7C1724.5 446.4 1729.2 443.2 1732.7 441.0C1736.2 438.8 1738.5 436.3 1739.7 435.4"/>
<path d="M1319.9 323.1C1320.3 324.0 1321.4 326.9 1322.2 328.7C1323.0 330.5 1323.6 332.0 1325.0 334.2C1326.4 336.4 1328.5 339.3 1330.5 341.6C1332.5 343.9 1334.4 345.2 1337.0 348.1C1339.6 351.0 1343.1 355.2 1346.2 359.1C1349.3 363.0 1352.4 367.2 1355.5 371.2C1358.6 375.2 1361.6 379.7 1364.7 383.2C1367.8 386.7 1370.8 389.8 1373.9 392.4C1377.0 395.0 1380.1 397.0 1383.2 398.9C1386.3 400.8 1387.8 401.5 1392.4 403.5C1397.0 405.5 1403.2 408.3 1410.9 410.9C1418.6 413.5 1429.3 416.6 1438.6 419.2C1447.8 421.8 1456.2 423.9 1466.4 426.6C1476.6 429.3 1485.8 431.4 1500.0 435.4C1514.2 439.4 1538.3 447.0 1551.5 450.7C1564.7 454.4 1572.4 456.1 1579.4 457.7C1586.4 459.3 1588.7 459.8 1593.3 460.5C1597.9 461.2 1602.5 461.7 1607.2 461.9C1611.9 462.1 1614.2 462.3 1621.2 461.6C1628.2 460.9 1639.8 459.3 1649.1 457.7C1658.4 456.1 1667.6 453.8 1676.9 452.1C1686.2 450.4 1697.8 448.9 1704.8 447.3C1711.8 445.7 1714.5 444.1 1718.7 442.4C1722.9 440.6 1726.6 438.9 1729.9 436.8C1733.2 434.7 1737.0 431.0 1738.3 429.8C1739.6 428.6 1735.8 432.9 1738.0 429.4C1740.2 425.9 1747.2 416.2 1751.8 408.6C1756.4 401.0 1762.5 389.6 1765.7 383.7C1768.9 377.8 1770.3 375.0 1771.2 373.3" fill="none" stroke="#111" stroke-width="1.9" stroke-linejoin="round"/>
<path class="o" d="M1322.2 323.6C1323.0 325.2 1325.1 330.5 1326.8 333.3C1328.5 336.1 1330.3 338.0 1332.3 340.2C1334.3 342.4 1336.2 343.8 1338.8 346.7C1341.4 349.6 1345.0 353.9 1348.1 357.8C1351.2 361.7 1354.2 365.8 1357.3 369.8C1360.4 373.8 1363.4 378.3 1366.5 381.8C1369.6 385.3 1372.7 388.4 1375.8 391.0C1378.9 393.6 1381.9 395.6 1385.0 397.5C1388.1 399.4 1389.7 400.1 1394.3 402.1C1398.9 404.1 1405.1 406.9 1412.8 409.5C1420.5 412.1 1431.3 415.2 1440.5 417.8C1449.7 420.4 1458.3 422.5 1468.2 425.2C1478.1 427.9 1486.1 429.9 1500.0 433.8C1513.9 437.8 1538.3 445.2 1551.5 448.9C1564.7 452.6 1572.4 454.3 1579.4 455.9C1586.4 457.5 1588.7 458.0 1593.3 458.7C1597.9 459.4 1602.5 459.9 1607.2 460.1C1611.9 460.3 1614.2 460.5 1621.2 459.8C1628.2 459.1 1639.8 457.5 1649.1 455.9C1658.4 454.3 1667.9 452.0 1676.9 450.3C1686.0 448.6 1696.7 447.1 1703.4 445.5C1710.2 443.9 1713.3 442.4 1717.4 440.7C1721.5 439.0 1724.8 437.3 1727.8 435.4C1730.8 433.5 1734.3 430.1 1735.5 429.1C1736.7 428.1 1733.0 432.8 1735.2 429.4C1737.5 426.0 1744.4 416.2 1749.0 408.6C1753.6 401.0 1759.5 389.6 1762.9 383.7C1766.3 377.8 1768.2 375.0 1769.2 373.3"/>
<path class="t" d="M1316.6 330.5L1320.3 341.6L1327.7 354.5L1346.2 373.9L1359.1 387.8L1373.9 401.7"/>
<path class="gd" d="M1373.9 401.7C1377.0 403.2 1384.7 408.0 1392.4 410.9C1400.1 413.8 1402.2 414.4 1420.1 419.2C1438.0 424.0 1478.1 433.4 1500.0 439.6C1521.9 445.8 1538.3 452.2 1551.5 456.3C1564.7 460.4 1572.4 462.4 1579.4 464.0C1586.4 465.6 1588.7 465.6 1593.3 466.1C1597.9 466.6 1602.5 466.8 1607.2 466.8C1611.9 466.9 1616.1 466.8 1621.2 466.4C1626.3 466.0 1635.1 465.0 1637.9 464.7"/>
<path class="t" d="M1637.9 464.7L1663.0 459.4L1697.8 450.7L1718.7 445.2L1731.3 438.9L1739.0 432.6"/>
<path class="gt" d="M1314.8 333.3C1315.4 335.1 1316.7 340.4 1318.5 344.4C1320.3 348.4 1321.8 351.9 1325.9 357.3C1330.1 362.7 1338.3 371.1 1343.4 376.7C1348.5 382.2 1351.8 386.0 1356.4 390.6C1361.0 395.2 1365.5 400.5 1371.2 404.4C1376.9 408.3 1382.6 411.1 1390.6 414.1C1398.6 417.1 1401.0 417.7 1419.2 422.5C1437.4 427.3 1478.0 436.8 1500.0 442.8C1522.0 448.9 1538.3 454.9 1551.5 458.8C1564.7 462.7 1570.1 464.7 1579.4 466.4C1588.7 468.1 1597.9 469.0 1607.2 469.1C1616.5 469.2 1630.4 467.5 1635.1 467.2"/>
<path class="t" d="M1353.6 391.0L1363.8 386.0M1327.7 356.4L1337.0 352.7M1399.8 419.2L1410.9 413.7M1315.2 330.5L1321.3 327.7"/>
<path class="t" d="M1638.1 471.3L1645.1 465.2M1698.4 456.5L1698.4 451.6M1574.4 463.4L1578.5 461.3"/>
<path class="b" d="M1349.7 328.7L1715.8 426.7"/>
<path class="o" d="M1345.6 313.2L1738.0 396.9"/>
<path class="o" d="M1349.7 316.0L1730.3 399.6"/>
<path class="gd" d="M1344.9 337.0L1710.2 434.3"/>
<path class="o" d="M1349.7 314.2L1349.7 328.7L1336.5 345.4"/>
<path d="M1347.6 317.6L1342.1 328.7L1336.5 337.0" fill="none" stroke="#222" stroke-width="1.8" stroke-dasharray="1.5 1.5"/>
<path class="o" d="M1345.6 313.2L1342.1 314.9L1340.0 328.7L1336.5 335.7L1336.5 345.4"/>
<path class="o" d="M1342.1 314.9L1344.9 310.0L1353.2 309.3L1353.2 301.0L1357.3 302.4L1357.6 312.8"/>
<path class="o" d="M1344.9 310.0L1345.6 301.0L1349.7 299.6L1353.2 301.0"/>
<path class="o" d="M1331.0 319.7L1331.7 323.2L1339.3 325.3L1340.0 320.4L1335.2 318.3Z"/>
<path class="g" d="M1322.7 328.7L1332.4 335.7L1336.5 335.7M1325.5 328.7L1331.7 323.2"/>
<path class="o" d="M1349.7 299.6L1349.7 287.1L1380.9 294.8L1387.1 291.6L1424.6 299.9L1426.7 305.2L1427.4 312.1"/>
<path class="o" d="M1351.8 294.8L1353.2 292.7L1367.0 295.5L1373.3 294.8L1374.0 297.5L1365.7 297.1L1364.3 295.5"/>
<path class="o" d="M1351.8 294.8L1351.8 299.6L1358.7 301.0"/>
<path d="M1351.1 288.8L1379.5 295.7" fill="none" stroke="#222" stroke-width="2.2" stroke-dasharray="1.2 1.4"/>
<path d="M1387.8 293.4L1423.2 301.3" fill="none" stroke="#222" stroke-width="2.6" stroke-dasharray="1.1 1.3"/>
<path class="o" d="M1382.6 299.6L1389.2 295.5L1419.7 303.1L1420.4 309.3L1415.6 308.2L1386.5 301.0Z"/>
<path class="o" d="M1387.1 291.6L1382.0 298.9L1382.6 299.6"/>
<path class="g" d="M1389.2 296.8L1392.0 299.6L1417.0 305.2L1419.7 303.1"/>
<path class="o" d="M1427.4 312.1L1428.0 306.5L1482.1 319.0L1483.5 321.1L1476.6 324.6L1427.4 312.1"/>
<path d="M1429.4 307.9L1481.4 320.1" fill="none" stroke="#222" stroke-width="2" stroke-dasharray="1.1 1.4"/>
<path class="o" d="M1476.6 324.6L1486.3 321.8L1500.8 326.6L1499.4 330.1L1491.8 328.7"/>
<path class="o" d="M1497.4 323.2L1523.7 328.7L1525.1 331.5L1519.5 335.7L1500.1 330.1"/>
<path d="M1498.8 324.3L1523.0 329.8" fill="none" stroke="#222" stroke-width="2" stroke-dasharray="1.1 1.4"/>
<path class="o" d="M1525.1 331.5L1534.1 327.3L1570.0 335.7L1571.6 342.1L1572.3 349.7"/>
<path class="o" d="M1532.0 338.7L1529.3 337.7L1536.2 333.2L1566.0 340.5L1570.0 341.5"/>
<path class="o" d="M1532.0 338.7L1561.1 346.1L1570.0 348.1"/>
<path d="M1534.8 329.0L1568.8 338.2" fill="none" stroke="#222" stroke-width="2.6" stroke-dasharray="1.1 1.3"/>
<path class="of" d="M1484.2 287.8L1498.1 291.6L1500.1 294.8L1499.4 305.2L1496.0 308.2L1481.4 304.1L1481.4 293.4Z"/>
<path class="o" d="M1481.4 293.4L1496.7 297.1L1500.1 294.8"/>
<path class="o" d="M1496.7 297.1L1496.0 308.2"/>
<path class="g" d="M1485.6 289.2L1483.5 292.7L1498.1 296.1"/>
<g id="p16marks" fill="#111" stroke="none">
<path d="M1463.5 418.2l3 .9-.6 3-3-.9zM1467.5 419.2l2.3.7-.6 3-2.3-.7zM1476.5 422.3l3.2 1-.5 2.6-3.2-1zM1480.5 423.5l2.4.7-.5 2.6-2.4-.7zM1484 424.2l11 3.3-.6 3-11-3.3z"/>
<circle cx="1472.6" cy="421.6" r="3.3"/>
<path d="M1502.5 428l4 1.2-.7 3.4-4-1.2zM1507.3 429.4l3.4 1-.7 3.4-3.4-1zM1511.6 430.7l5 1.5-.7 3.4-5-1.5zM1517.6 432.5l2.6.8-.7 3.4-2.6-.8zM1521.3 433.6l3 .9-.7 3.4-3-.9zM1525.1 434.8l2.8.8-.7 3.4-2.8-.8z"/>
</g>
<ellipse cx="1537.1" cy="439.3" rx="5.6" ry="4.3" fill="#fff" stroke="#111" stroke-width="1.8" transform="rotate(15 1537.1 439.3)"/>
<path d="M1534.6 438.4l5 1.6M1537.6 437.6l-1 3.4" stroke="#555" stroke-width=".8" fill="none"/>
<circle cx="1472.3" cy="421.5" r="1.3" fill="#fff"/>
</g>
<!-- 16_part16b.svg -->
<g id="part16b">
<path class="of" d="M1629.8 326.1L1644.0 330.6L1646.2 334.1L1645.1 342.1L1642.6 343.2L1627.0 338.6L1625.7 335.2L1627.0 329.6Z"/>
<path class="o" d="M1627.0 329.6L1641.6 334.1L1646.2 334.1"/>
<path class="o" d="M1641.6 334.1L1642.6 343.2"/>
<path class="g" d="M1630.5 327.5L1629.1 331.0L1643.0 335.2"/>
<path class="o" d="M1600.0 344.2L1603.5 340.7L1610.4 338.2L1618.7 337.7L1627.0 338.6L1635.4 342.1L1645.1 345.6L1654.8 347.6L1656.2 342.8L1659.6 341.8L1663.1 344.2L1663.8 349.0L1668.6 351.1L1678.3 352.9L1679.0 345.6L1681.1 344.9L1682.5 346.5L1682.2 353.9L1689.4 356.6L1695.7 358.7L1696.4 353.9L1699.8 352.9L1703.3 354.8L1704.0 361.5L1710.2 362.6L1717.2 363.2L1718.5 358.7L1720.6 357.3L1722.0 359.4L1721.3 364.0L1729.6 364.3L1735.9 365.7L1738.0 364.3L1741.4 365.0L1744.2 369.8L1743.5 380.9"/>
<path class="o" d="M1602.1 346.9L1607.6 343.5L1616.0 342.1L1625.7 343.2L1634.0 346.5L1645.1 350.4L1654.8 353.2L1663.1 355.3L1668.6 356.6L1679.7 358.7L1689.4 362.2L1696.4 365.7L1704.7 367.0L1714.4 367.7L1718.5 367.0L1719.9 365.7L1729.6 369.1L1735.2 371.2L1734.5 380.9"/>
<path class="o" d="M1654.8 347.6L1654.1 353.2L1663.1 355.3L1663.8 349.0"/>
<path class="o" d="M1695.7 358.7L1694.3 365.0L1703.3 367.0L1704.0 361.5"/>
<path class="o" d="M1735.9 365.7L1733.8 375.4L1743.5 378.1"/>
<path class="g" d="M1658.9 343.5L1658.2 353.2M1699.8 354.6L1698.9 365.7M1739.3 366.4L1738.0 376.8"/>
<path class="o" d="M1595.2 345.6L1596.5 347.6L1602.1 349.7L1607.6 347.6L1611.8 349.0L1613.2 354.6L1604.9 353.2L1604.2 349.0"/>
<path class="o" d="M1595.2 345.6L1594.5 349.0L1597.9 350.4L1595.2 354.6L1616.0 360.1L1620.1 358.7L1620.8 356.0L1613.2 354.6"/>
<path d="M1613.2 355.3L1618.7 356.6L1618.5 358.0L1612.9 356.8Z" fill="#222" stroke="none"/>
<path class="o" d="M1624.3 351.8L1627.0 349.0L1632.6 349.7L1635.4 353.2L1636.8 358.7L1625.7 356.0Z"/>
<path class="o" d="M1572.3 349.7L1575.8 344.2L1595.2 349.0"/>
<path d="M1576.4 345.6L1594.5 350.1" fill="none" stroke="#222" stroke-width="2" stroke-dasharray="1.1 1.4"/>
<path class="o" d="M1636.8 358.7L1640.9 353.2L1710.2 369.1L1713.0 373.3L1668.6 363.2L1667.3 365.7L1636.8 358.7"/>
<path d="M1642.3 354.6L1709.5 370.1" fill="none" stroke="#222" stroke-width="2.2" stroke-dasharray="1.1 1.4"/>
<path class="o" d="M1667.3 365.7L1670.0 372.9L1665.9 376.1L1618.7 365.0"/>
<path class="o" d="M1652.0 352.9L1713.0 367.0L1713.7 369.8"/>
<path class="o" d="M1665.9 376.1L1673.5 373.3L1678.3 368.7L1711.6 376.5L1714.4 379.5L1715.8 389.2"/>
<path d="M1679.0 370.9L1710.9 378.4" fill="none" stroke="#222" stroke-width="2.8" stroke-dasharray="1.1 1.3"/>
<path class="o" d="M1674.2 376.8L1680.4 373.7L1708.8 380.6L1711.6 389.0L1706.8 387.8L1677.0 380.2Z"/>
<path class="g" d="M1680.4 375.4L1682.5 378.1L1706.1 384.0L1708.8 382.3"/>
<path class="o" d="M1715.8 389.2L1718.5 380.9L1722.0 377.4L1726.9 379.5L1728.3 385.1L1738.0 387.8L1740.7 385.1L1748.4 387.8L1750.4 394.8"/>
<path class="o" d="M1719.9 387.8L1724.1 385.1L1729.6 387.8L1733.8 392.0L1723.4 390.6"/>
<path class="o" d="M1742.1 385.8L1742.1 390.6L1749.0 392.7"/>
<path class="o" d="M1716.5 390.6L1738.0 396.9L1741.4 399.6L1740.7 408.6L1735.2 419.0"/>
<path class="o" d="M1738.0 396.9L1743.5 393.4L1757.4 385.8L1765.7 375.4"/>
<path class="o" d="M1730.3 399.6L1729.6 408.6L1726.9 410.0L1725.5 408.6L1723.4 411.4L1715.8 426.7"/>
<path class="o" d="M1723.4 411.4L1729.6 414.2L1731.0 426.7L1738.0 428.0L1740.7 423.9"/>
<path class="o" d="M1729.6 408.6L1733.8 401.7L1738.0 403.8L1736.6 410.0L1733.8 419.0L1731.0 422.5"/>
<path class="o" d="M1715.8 426.7L1722.0 417.2L1722.7 428.7L1730.3 430.8L1738.0 428.0"/>
<path class="o" d="M1715.8 426.7L1708.8 446.1L1722.0 429.4"/>
<path class="g" d="M1713.0 440.5L1729.6 438.4M1718.5 433.6L1735.2 432.2"/>
<path class="o" d="M1746.3 392.0L1751.8 394.8L1750.4 403.1L1744.2 414.2L1740.7 423.9"/>
<path class="o" d="M1751.8 394.8L1757.4 385.8"/>
<path d="M1769.2 375.4L1757.4 398.9L1746.3 417.0L1739.3 426.7" fill="none" stroke="#222" stroke-width="1.6" stroke-dasharray="1.2 1.5"/>
<path class="o" d="M1765.7 400.3L1760.1 408.6L1757.4 408.6"/>
<path class="g" d="M1670.0 365.7L1670.3 367.0"/>
</g>
<!-- 17_part5.svg -->
<defs><g id="lamp5">
<path class="of" d="M950.7 1129.8L960.4 1118.8L966.2 1131.8L1032.2 1135.3L1040.0 1137.6L1041.9 1140.2L1041.3 1145.3L1030.9 1156.3L1027.0 1158.6L1019.3 1159.9L1014.8 1159.3L958.5 1142.1L953.9 1140.2L951.3 1136.9Z"/>
<path class="o" d="M951.7 1130.8L952.3 1133.7L954.6 1136.4L959.1 1138.2L1016.0 1155.2L1020.6 1155.6L1028.3 1153.9L1030.9 1151.8L1041.0 1141.1"/>
<path d="M952.0 1129.8L954.9 1134.7L959.4 1136.8L1016.4 1153.8L1020.6 1154.1L1027.7 1152.5L1040.0 1139.8" fill="none" stroke="#111" stroke-width="2"/>
<path class="g" d="M951.3 1133.1L952.8 1138.5M1019.3 1157.6L1027.0 1156.3L1040.6 1143.1"/>
<path class="of" d="M961.1 1113.6L963.0 1110.4L966.2 1108.5L971.4 1106.8L975.3 1105.9L992.1 1111.1L1023.2 1120.4L1025.7 1122.7L1030.3 1136.3L1019.9 1149.9L1018.0 1150.2L968.8 1135.6L963.6 1133.7L961.7 1131.8L959.8 1126.6Z"/>
<path class="o" d="M966.2 1117.5L1014.1 1132.4L1023.2 1121.4"/>
<path class="o" d="M966.2 1117.5L965.3 1133.7"/>
<path class="o" d="M1014.1 1132.4L1016.0 1136.3L1025.7 1125.3"/>
<path class="o" d="M1016.0 1136.3L1019.9 1149.9"/>
<path class="g" d="M967.5 1118.8L1013.5 1133.4L1014.8 1136.9L1018.6 1147.3"/>
<path class="g" d="M1016.7 1134.3L1024.5 1125.3M1018.0 1135.3L1025.1 1126.9"/>
<path class="o" d="M961.1 1113.6L962.3 1116.2L961.7 1130.5"/>
<path class="o" d="M963.0 1110.4L964.3 1113.6L963.6 1131.8"/>
<path d="M968.2 1114.9L972.1 1109.8L975.3 1106.5" fill="none" stroke="#111" stroke-width="2.2"/>
<path class="o" d="M967.8 1135.6L968.2 1127.9L969.1 1126.3L970.2 1127.6L970.4 1136.2"/>
<path class="o" d="M1008.4 1147.9L1008.8 1140.2L1009.8 1138.5L1010.9 1139.8L1011.2 1148.7"/>
<path class="g" d="M969.1 1127.2L969.1 1135.6"/>
<path d="M976.6 1103.3L979.2 1100.4L991.5 1103.3L991.5 1116.2L986.9 1119.5L977.2 1116.9Z" fill="#fff" stroke="#111" stroke-width="1.8" stroke-linejoin="round"/>
<path d="M976.6 1103.3L986.9 1105.9L991.5 1103.3" fill="none" stroke="#111" stroke-width="2"/>
<path class="o" d="M986.9 1105.9L986.9 1119.5"/>
<path d="M981.1 1102.3L985.6 1103.4L985.0 1105.6L980.5 1104.5Z" fill="#fff" stroke="#111" stroke-width="1.5"/>
<path class="g" d="M985.6 1107.2L985.6 1118.2L988.5 1105.6L988.5 1117.5M989.8 1104.6L989.8 1116.9"/>
<circle cx="975.0" cy="1115.9" r="1.2" fill="#111"/>
<circle cx="987.3" cy="1119.8" r="1.2" fill="#111"/>
<path d="M997.9 1116.2L999.2 1114.9L1008.9 1117.8L1008.6 1119.8L1005.0 1120.4L997.9 1118.3Z" fill="#111"/>
<path d="M1010.2 1118.8L1011.2 1117.8L1020.6 1120.6L1020.9 1124.0L1019.3 1124.3L1010.2 1121.4Z" fill="#111"/>
<path d="M997.6 1123.0L998.6 1122.1L1012.2 1126.1L1011.6 1128.5L1010.2 1129.0L997.6 1125.3Z" fill="#111"/>
</g></defs>
<use href="#lamp5"/>
<use href="#lamp5" transform="translate(297.6 81.2)"/>
<!-- 18_part67.svg -->
<g id="part6">
<path class="of" d="M421.7 1389.6C422.1 1389.2 423.1 1387.6 424.0 1386.8C424.8 1386.0 425.4 1385.4 426.8 1384.9C428.2 1384.3 430.8 1383.6 432.5 1383.4C434.2 1383.2 435.8 1383.4 437.0 1383.7C438.2 1384.1 439.2 1384.3 439.8 1385.3C440.5 1386.3 440.8 1388.0 440.9 1389.6C440.9 1391.3 440.3 1393.7 440.2 1395.3C440.0 1396.9 439.9 1398.6 439.8 1399.3"/>
<path d="M425.1 1389.6C425.6 1389.1 426.7 1387.1 427.9 1386.2C429.2 1385.4 431.3 1384.1 432.5 1384.5C433.6 1385.0 434.7 1387.3 434.7 1389.1C434.7 1390.9 432.8 1394.3 432.5 1395.3" fill="none" stroke="#222" stroke-width="1.6"/>
<path class="o" d="M432.5 1384.5C433.4 1384.7 437.0 1384.5 438.1 1385.3C439.3 1386.2 439.4 1387.6 439.3 1389.6C439.2 1391.7 437.9 1396.2 437.6 1397.6"/>
<path class="g" d="M427.9 1389.1L431.3 1386.0L435.6 1390.8L438.1 1387.4"/>
<path class="of" d="M553.6 1470.0C554.0 1469.6 555.1 1468.0 555.9 1467.2C556.8 1466.4 557.3 1465.8 558.7 1465.3C560.1 1464.7 562.7 1464.0 564.4 1463.8C566.1 1463.6 567.7 1463.8 568.9 1464.1C570.1 1464.5 571.1 1464.7 571.8 1465.7C572.4 1466.7 572.7 1468.4 572.8 1470.0C572.8 1471.7 572.3 1474.1 572.1 1475.7C571.9 1477.3 571.8 1479.0 571.8 1479.7"/>
<path d="M557.0 1470.0C557.5 1469.5 558.6 1467.5 559.9 1466.6C561.1 1465.8 563.3 1464.5 564.4 1464.9C565.5 1465.4 566.7 1467.7 566.7 1469.5C566.7 1471.3 564.8 1474.7 564.4 1475.7" fill="none" stroke="#222" stroke-width="1.6"/>
<path class="o" d="M564.4 1464.9C565.3 1465.1 568.9 1464.9 570.1 1465.7C571.2 1466.6 571.3 1468.0 571.2 1470.0C571.1 1472.1 569.8 1476.6 569.5 1478.0"/>
<path class="g" d="M559.9 1469.5L563.3 1466.4L567.6 1471.2L570.1 1467.8"/>
<path class="of" d="M491.9 1434.9C492.4 1434.5 493.8 1433.2 494.8 1432.4C495.7 1431.7 496.5 1431.0 497.6 1430.6C498.6 1430.2 500.3 1429.8 501.0 1430.2C501.7 1430.5 501.7 1431.4 501.8 1432.7C501.9 1433.9 501.6 1436.9 501.5 1437.8"/>
<path d="M495.3 1434.4L498.1 1431.5L500.4 1431.8L500.2 1437.0Z" fill="#333"/>
<path class="of" d="M432.5 1398.1L435.3 1397.3L439.8 1399.6L446.3 1405.3L444.4 1406.4"/>
<path class="of" d="M508.3 1443.4L511.2 1442.6L515.7 1444.9L522.2 1450.6L520.2 1451.7"/>
<path class="of" d="M575.7 1481.9L578.5 1481.1L583.1 1483.4L589.5 1489.1L587.6 1490.2"/>
<path class="of" d="M371.3 1361.1L374.7 1358.8L377.0 1359.1L380.4 1360.4L386.3 1365.9"/>
<path class="of" d="M371.3 1361.1C380.0 1366.2 406.4 1381.5 423.4 1391.9C440.4 1402.3 455.5 1412.8 473.2 1423.6C491.0 1434.4 511.0 1445.7 529.9 1456.4C548.7 1467.2 573.5 1480.9 586.5 1488.1C599.5 1495.4 604.4 1498.2 608.0 1500.2L608.9 1501.7C608.7 1502.0 608.9 1502.2 608.0 1503.1C607.1 1503.9 606.1 1505.4 603.5 1506.8C600.8 1508.3 595.9 1510.8 592.1 1511.9C588.4 1513.1 584.6 1513.8 580.8 1513.6C577.0 1513.4 574.2 1512.6 569.5 1510.8C564.8 1509.0 559.1 1506.3 552.5 1502.9C545.9 1499.5 539.3 1496.1 529.9 1490.4C520.4 1484.8 506.9 1475.9 495.9 1468.9C484.8 1461.9 474.9 1456.3 463.6 1448.5C452.3 1440.8 439.5 1431.3 427.9 1422.5C416.3 1413.6 403.0 1403.0 394.0 1395.3C384.9 1387.6 377.7 1380.5 373.6 1376.0C369.4 1371.6 370.0 1370.6 369.1 1368.7C368.1 1366.8 367.9 1365.7 367.7 1364.7C367.5 1363.7 367.5 1363.3 368.2 1362.7C368.8 1362.1 370.8 1361.4 371.3 1361.1"/>
<path d="M371.3 1361.3C380.0 1366.5 406.4 1381.7 423.4 1392.1C440.4 1402.5 455.5 1413.1 473.2 1423.8C491.0 1434.6 511.0 1445.9 529.9 1456.7C548.7 1467.4 573.5 1481.1 586.5 1488.4C599.5 1495.7 604.4 1498.4 608.0 1500.4" fill="none" stroke="#111" stroke-width="2" stroke-linejoin="round"/>
<path class="o" d="M370.2 1363.4C378.9 1368.5 405.3 1383.9 422.3 1394.4C439.3 1404.8 454.4 1415.3 472.1 1426.1C489.8 1436.9 509.9 1448.2 528.7 1458.9C547.6 1469.7 572.3 1483.3 585.3 1490.6C598.4 1498.0 603.3 1500.8 606.9 1502.9"/>
<path d="M370.8 1365.9C379.3 1371.0 404.9 1386.5 421.7 1397.0C438.5 1407.5 453.8 1417.9 471.5 1428.7C489.3 1439.5 509.3 1450.8 528.2 1461.5C547.0 1472.3 571.8 1486.0 584.8 1493.2C597.7 1500.5 602.2 1503.2 605.7 1505.1" fill="none" stroke="#888" stroke-width="2.8" stroke-dasharray="0.8 1.8"/>
<path class="g" d="M369.6 1368.1C378.2 1373.4 404.3 1389.3 421.1 1399.8C438.0 1410.4 453.2 1420.8 471.0 1431.5C488.7 1442.3 508.7 1453.6 527.6 1464.4C546.5 1475.1 571.6 1489.0 584.2 1496.1C596.9 1503.2 600.3 1505.0 603.5 1506.8"/>
<path d="M528.2 1483.6L533.8 1485.9" fill="none" stroke="#111" stroke-width="1.8"/>
<path d="M532.3 1485.4L531.6 1491.0" fill="none" stroke="#111" stroke-width="1.5"/>
</g>
<g id="part7">
<path class="of" d="M1750.4 1792.9C1750.7 1792.3 1751.6 1790.7 1752.5 1789.6C1753.4 1788.6 1754.4 1787.5 1755.7 1786.8C1757.0 1786.0 1758.4 1785.4 1760.2 1785.2C1762.0 1785.0 1765.0 1785.1 1766.4 1785.5C1767.9 1786.0 1768.3 1786.5 1768.8 1787.9C1769.2 1789.2 1769.2 1792.8 1769.3 1793.8"/>
<path d="M1753.9 1792.9C1754.4 1792.2 1755.4 1789.9 1756.6 1788.9C1757.8 1787.9 1760.0 1786.6 1761.1 1786.8C1762.1 1787.0 1763.2 1789.2 1762.9 1790.2C1762.6 1791.2 1759.9 1792.4 1759.3 1792.9" fill="none" stroke="#222" stroke-width="1.5"/>
<path class="o" d="M1761.1 1786.8L1766.8 1787.1L1767.3 1792.9"/>
<path class="of" d="M1957.5 1804.3C1957.9 1803.8 1958.8 1802.1 1959.6 1801.1C1960.5 1800.1 1961.6 1799.0 1962.9 1798.2C1964.1 1797.5 1965.5 1796.8 1967.3 1796.6C1969.1 1796.4 1972.1 1796.5 1973.6 1797.0C1975.0 1797.4 1975.4 1797.9 1975.9 1799.3C1976.4 1800.7 1976.3 1804.2 1976.4 1805.2"/>
<path d="M1961.1 1804.3C1961.5 1803.6 1962.6 1801.4 1963.8 1800.4C1964.9 1799.3 1967.2 1798.0 1968.2 1798.2C1969.3 1798.4 1970.3 1800.6 1970.0 1801.6C1969.7 1802.6 1967.0 1803.8 1966.4 1804.3" fill="none" stroke="#222" stroke-width="1.5"/>
<path class="o" d="M1968.2 1798.2L1973.9 1798.6L1974.5 1804.3"/>
<path class="of" d="M1861.1 1800.0L1865.5 1797.1L1867.5 1800.2"/>
<path d="M1862.9 1799.6L1865.5 1797.7L1866.8 1799.8Z" fill="#333"/>
<path class="of" d="M1705.7 1790.7L1707.5 1789.3L1720.9 1790.0L1723.9 1792.1"/>
<path class="of" d="M1803.0 1797.1L1804.8 1795.7L1818.2 1796.4L1821.2 1798.6"/>
<path class="of" d="M1924.5 1803.8L1926.2 1802.3L1939.6 1803.0L1942.7 1805.2"/>
<path class="of" d="M1681.6 1788.9C1693.1 1789.5 1722.5 1790.7 1750.4 1792.5C1778.2 1794.3 1817.3 1797.6 1848.6 1799.6C1879.8 1801.7 1908.1 1803.2 1937.9 1805.0C1967.6 1806.8 2006.9 1808.9 2027.1 1810.4C2047.4 1811.8 2052.9 1812.8 2059.3 1813.9C2065.7 1815.0 2064.2 1816.0 2065.5 1817.0C2066.8 1817.9 2066.9 1819.2 2067.1 1819.6L2067.1 1819.6C2066.9 1820.0 2067.7 1821.2 2065.5 1821.8C2063.3 1822.4 2060.3 1822.5 2053.9 1823.2C2047.5 1824.0 2040.5 1825.1 2027.1 1826.2C2013.8 1827.4 1991.4 1829.2 1973.6 1830.2C1955.7 1831.1 1939.8 1831.8 1920.0 1832.0C1900.2 1832.1 1875.7 1831.5 1854.8 1831.1C1834.0 1830.6 1812.4 1830.0 1795.0 1829.3C1777.6 1828.6 1762.3 1828.1 1750.4 1827.0C1738.5 1825.8 1731.0 1824.4 1723.6 1822.5C1716.1 1820.6 1711.7 1818.5 1705.7 1815.4C1699.8 1812.2 1692.3 1807.0 1687.9 1803.8C1683.4 1800.5 1680.8 1797.9 1678.9 1796.1C1677.1 1794.3 1676.9 1793.8 1676.8 1792.9C1676.6 1791.9 1677.2 1791.0 1678.0 1790.4C1678.8 1789.7 1681.0 1789.2 1681.6 1788.9"/>
<path d="M1678.9 1790.0C1690.8 1790.6 1722.1 1791.8 1750.4 1793.6C1778.6 1795.4 1817.3 1798.6 1848.6 1800.7C1879.8 1802.8 1908.1 1804.3 1937.9 1806.1C1967.6 1807.9 2006.9 1809.9 2027.1 1811.4C2047.4 1812.9 2052.9 1813.9 2059.3 1815.0C2065.7 1816.1 2064.5 1817.4 2065.5 1817.9" fill="none" stroke="#111" stroke-width="1.8" stroke-linejoin="round"/>
<path class="o" d="M1678.0 1792.1C1690.1 1792.7 1721.9 1793.9 1750.4 1795.7C1778.8 1797.5 1817.3 1800.8 1848.6 1802.9C1879.8 1804.9 1908.1 1806.4 1937.9 1808.2C1967.6 1810.0 2007.1 1812.1 2027.1 1813.6C2047.2 1815.1 2052.1 1816.1 2058.4 1817.1C2064.6 1818.2 2063.6 1819.2 2064.6 1819.6"/>
<path d="M1679.8 1793.9C1691.6 1794.6 1722.2 1796.0 1750.4 1797.9C1778.5 1799.7 1817.3 1802.9 1848.6 1805.0C1879.8 1807.1 1908.1 1808.6 1937.9 1810.4C1967.6 1812.1 2007.2 1814.3 2027.1 1815.7C2047.1 1817.1 2052.4 1818.4 2057.5 1818.9" fill="none" stroke="#888" stroke-width="2.4" stroke-dasharray="0.8 1.8"/>
<path class="g" d="M1680.7 1796.1C1692.3 1796.7 1722.4 1798.2 1750.4 1800.0C1778.3 1801.8 1817.3 1805.1 1848.6 1807.1C1879.8 1809.2 1908.1 1810.7 1937.9 1812.5C1967.6 1814.3 2007.5 1816.5 2027.1 1817.9C2046.8 1819.2 2051.0 1820.2 2055.7 1820.7"/>
<path d="M1775.4 1820.5L1784.3 1821.1" fill="none" stroke="#111" stroke-width="1.8"/>
<path d="M1777.7 1821.2L1782.1 1821.4L1779.8 1825.9Z" fill="#fff" stroke="#111" stroke-width="1.1"/>
</g>
<!-- 50_dash1.svg -->
<g class="d">
 <path d="M416.8 305L382 360.5"/>
 <path d="M354.4 404.4L281 520.7"/>
 <path d="M375.6 403.8L316.5 497.8"/>
 <path d="M581.9 364.2L476 495.2"/><path d="M456.3 519.2L350.3 650.7"/>
 <path d="M577.3 461.2L519 533.3"/><path d="M498.7 558.7L470 594.5"/><path d="M452.9 615.4L329.5 767.4"/>
 <path d="M402.6 544.4L390 560"/>
</g>
<use href="#s8" x="423.6" y="293"/>
<use href="#s9" x="381.6" y="387.6"/>
<use href="#n10" x="588.6" y="354.8"/>
<use href="#n10" x="584.7" y="451.4"/>
<use href="#c11" x="464.8" y="509.4"/>
<use href="#c11" x="461.5" y="606.5"/>
<use href="#g12" x="415.2" y="518.3"/>
<!-- 51_dash3.svg -->
<g class="d">
 <path d="M1016.7 727.8L916.1 787.5"/>
 <path d="M868.6 815.9L768.4 875.7"/>
 <path d="M996.6 803.1L913 852.5"/>
 <path d="M876.5 874L803.8 917.4"/>
 <path d="M876.2 896.8L822 929.5"/>
 <path d="M1116.5 837.4L938 943.5"/>
 <path d="M910 960L857.4 991.5"/>
</g>
<use href="#g14a" x="889.3" y="882.3"/>
<use href="#n10" x="1127.3" y="831.1"/>
<use href="#s8b" x="1028.9" y="718.5"/>
<use href="#s9b" x="1007.6" y="793.7"/>
<use href="#w13a" x="924.4" y="951.8"/>
<!-- 52_dash4.svg -->
<g class="d">
 <path d="M1601.6 933L1580.6 1051"/>
 <path d="M1576 1079.2L1564.5 1141.5"/>
 <path d="M1650 1049.3L1638.4 1112"/>
 <path d="M1762.7 894.2L1747 979"/>
 <path d="M1748.5 973.8L1722 1119"/>
 <path d="M1759 975L1731.5 1125"/>
</g>
<use href="#n10" x="1603.6" y="923.3"/>
<use href="#s8c" x="1765.4" y="880.1"/>
<use href="#s9c" x="1761.3" y="960.2"/>
<use href="#g14b" x="1652.8" y="1025.4"/>
<use href="#w13b" x="1578.8" y="1065.2"/>
<!-- 53_dash2.svg -->
<g class="d">
 <path d="M2424 749.9L2329 868"/>
 <path d="M2315.1 885.5L2275.4 934.5"/>
 <path d="M2260.8 952.6L2205 1021.9"/>
 <path d="M2417.9 828.9L2380 876"/>
 <path d="M2341.4 924.9L2317.8 953.7"/>
 <path d="M2299.8 976.4L2226.6 1067.3"/>
 <path d="M2354.2 936.3L2230.7 1088.1"/>
 <path d="M2599.5 766.5L2276.5 1165.5"/>
 <path d="M2641.5 883L2320.9 1282.6"/>
</g>
<use href="#n10" x="2440.9" y="728.2"/>
<use href="#n10" x="2422.5" y="820.6"/>
<use href="#c11" x="2323.7" y="875.5"/>
<use href="#c11" x="2305.4" y="968.1"/>
<use href="#g12" x="2361.6" y="907.4"/>
<use href="#s8" x="2607.1" y="755.5"/>
<use href="#s9" x="2648.7" y="872.5"/>
<g class="l">
<path d="M424.4 229L424.4 283"/><path d="M308 385.8L371.5 385.8"/><path d="M427.7 445L427.7 484.5"/><path d="M594.5 358.8L661.7 425.3"/><path d="M591.5 453.8L650.6 453.8"/><path d="M471.3 517L561.9 585"/><path d="M470.2 610.9L553.4 610.9"/><path d="M148.2 853.2L148.2 925.5"/><path d="M884.9 742L884.9 856"/><path d="M1027.3 620L1027.3 707.8"/><path d="M1070.5 765.4L1024.3 783.9"/><path d="M1192.5 861.6L1133.4 835.7"/><path d="M1010.3 983.5L938.2 952.9"/><path d="M723.8 1077.6L723.8 1144"/><path d="M986.6 1151.2L986.6 1218"/><path d="M1287.5 1231.8L1287.5 1296.5"/><path d="M1566.4 218L1566.4 307.8"/><path d="M1603.2 812.6L1603.2 916.3"/><path d="M1766.6 809.6L1762.9 870.1"/><path d="M1654.6 942L1654.6 1001.3"/><path d="M1829.5 956.2L1773.3 956.2"/><path d="M1497.9 1061.2L1566.3 1061.2"/><path d="M1580.3 1305.7L1580.3 1367.8"/><path d="M2367.4 757L2367.4 871.6"/><path d="M2205.1 885.3L2315.2 872.4"/><path d="M2199.5 907.9L2297.5 964"/><path d="M2489.7 767L2447.2 733.7"/><path d="M2486.8 795.1L2429.9 817.3"/><path d="M2606.9 684L2606.9 745.9"/><path d="M2658.7 805.1L2649.4 862.4"/><path d="M2166.6 1387L2166.6 1460.2"/><path d="M2845.5 874.4L2845.5 967.2"/><path d="M463.9 1449.4L463.9 1525.3"/><path d="M1854.8 1831.4L1854.8 1913"/>
</g>
<g>
<circle class="bc" cx="423.3" cy="190.6" r="39.5"/><text class="bt" x="424.8" y="205.7">8</text>
<circle class="bc" cx="269.1" cy="383.9" r="39.5"/><text class="bt" x="270.6" y="399">9</text>
<circle class="bc" cx="425.9" cy="405.7" r="39.5"/><text class="bt" x="428.7" y="420.8">12</text>
<circle class="bc" cx="689.1" cy="451.9" r="39.5"/><text class="bt" x="691.9" y="467">10</text>
<circle class="bc" cx="592.6" cy="609.3" r="39.5"/><text class="bt" x="595.4" y="624.4">11</text>
<circle class="bc" cx="146.8" cy="964.2" r="39.5"/><text class="bt" x="148.3" y="979.3">1</text>
<circle class="bc" cx="882.7" cy="703" r="39.5"/><text class="bt" x="885.5" y="718.1">14</text>
<circle class="bc" cx="1025.8" cy="580.6" r="39.5"/><text class="bt" x="1027.3" y="595.7">8</text>
<circle class="bc" cx="1106" cy="748.8" r="39.5"/><text class="bt" x="1107.5" y="763.9">9</text>
<circle class="bc" cx="1228.4" cy="878.5" r="39.5"/><text class="bt" x="1231.2" y="893.6">10</text>
<circle class="bc" cx="1046.1" cy="999.5" r="39.5"/><text class="bt" x="1048.9" y="1014.6">13</text>
<circle class="bc" cx="722.3" cy="1183" r="39.5"/><text class="bt" x="723.8" y="1198.1">3</text>
<circle class="bc" cx="984.7" cy="1257.3" r="39.5"/><text class="bt" x="986.2" y="1272.4">5</text>
<circle class="bc" cx="1285.7" cy="1335.7" r="39.5"/><text class="bt" x="1287.2" y="1350.8">5</text>
<circle class="bc" cx="1563.4" cy="178.7" r="39.5"/><text class="bt" x="1566.2" y="193.8">16</text>
<circle class="bc" cx="1767" cy="770.2" r="39.5"/><text class="bt" x="1768.5" y="785.3">8</text>
<circle class="bc" cx="1653.1" cy="903.3" r="39.5"/><text class="bt" x="1655.9" y="918.4">14</text>
<circle class="bc" cx="1868.7" cy="954.7" r="39.5"/><text class="bt" x="1870.2" y="969.8">9</text>
<circle class="bc" cx="1458.7" cy="1060" r="39.5"/><text class="bt" x="1461.5" y="1075.1">13</text>
<circle class="bc" cx="1578.1" cy="1407" r="39.5"/><text class="bt" x="1579.6" y="1422.1">4</text>
<circle class="bc" cx="2365.5" cy="717.8" r="39.5"/><text class="bt" x="2368.3" y="732.9">12</text>
<circle class="bc" cx="2165.5" cy="888.3" r="39.5"/><text class="bt" x="2168.3" y="903.4">11</text>
<circle class="bc" cx="2605.5" cy="645" r="39.5"/><text class="bt" x="2607" y="660.1">8</text>
<circle class="bc" cx="2663.5" cy="765.8" r="39.5"/><text class="bt" x="2665" y="780.9">9</text>
<circle class="bc" cx="2165.2" cy="1499.4" r="39.5"/><text class="bt" x="2166.7" y="1514.5">2</text>
<circle class="bc" cx="2842.9" cy="835.6" r="39.5"/><text class="bt" x="2845.7" y="850.7">15</text>
<circle class="bc" cx="462.4" cy="1564.6" r="39.5"/><text class="bt" x="463.9" y="1579.7">6</text>
<circle class="bc" cx="1853.2" cy="1952.4" r="39.5"/><text class="bt" x="1854.7" y="1967.5">7</text>
<circle class="wc" cx="1603.2" cy="785" r="27.7"/><text class="wt" x="1603.4" y="797.9">10</text>
<circle class="wc" cx="2513" cy="784.7" r="27.7"/><text class="wt" x="2513.2" y="797.6">10</text>
<g fill="none" stroke="#fff" stroke-width="1" stroke-dasharray="1.3 2.4" stroke-linecap="round"><path d="M667.3 464.1C666.5 450 672 438 682.1 430.9"/><path d="M1206.2 886.3C1206 873 1212.5 862.5 1222.8 856.7"/><path d="M1024.3 995.4C1025.5 988.5 1029.5 983.5 1035.4 980.6"/><path d="M1540.9 188.7C1540 175 1546 164 1556.7 158"/><path d="M2821.4 831.1C2823 823.5 2828 818 2835.5 815.2"/><path d="M442.3 1554.4C446 1547.5 452 1543.3 459.6 1541.9"/><path d="M2147 1486C2153 1479.5 2161.5 1476.5 2170.7 1476.8"/><path d="M1566 1388.2L1570.5 1386.4"/></g>
<circle cx="407.8" cy="393.2" r=".7" fill="#fff"/><circle cx="1274.2" cy="1317" r=".6" fill="#fff"/>
</g>
</svg></body></html>
